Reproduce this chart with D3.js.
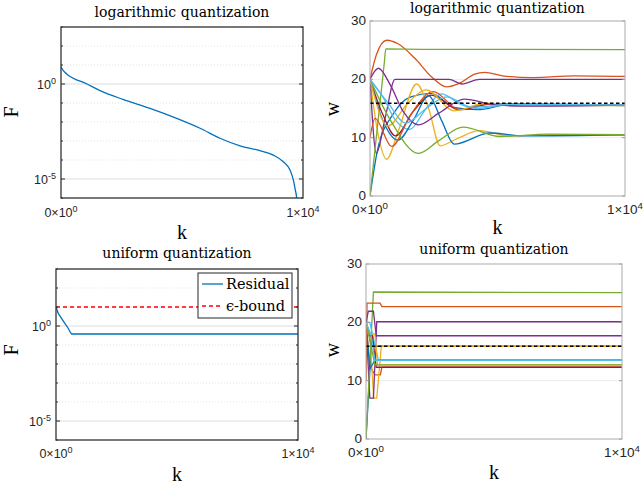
<!DOCTYPE html>
<html lang="en">
<head>
<meta charset="UTF-8">
<title>Quantized consensus</title>
<script src="https://d3js.org/d3.v7.min.js"></script>
<style>
  body { margin: 0; background: #fff; }
  .tick-label { font-family: "Liberation Sans", Arial, sans-serif; fill: #262626; }
  .serif { font-family: "Liberation Serif", "DejaVu Serif", serif; fill: #000; }
  .title { font-family: "DejaVu Serif", "Liberation Serif", serif; fill: #000; }
</style>
</head>
<body>
<svg id="chart" width="644" height="488"></svg>
<script>
// ---- data ----
const kDomain = [0, 10000];
const kTicks = [0, 10000];
const fDomain = [1e-6, 1e3];
const fMajorTicks = [1e0, 1e-5];
const fMinorTicks = [1e3, 1e2, 1e1, 1e-1, 1e-2, 1e-3, 1e-4, 1e-6];
const wDomain = [0, 30];
const wTicks = [0, 10, 20, 30];

// residual F, logarithmic quantization
const logResK = [0, 95, 235, 1074, 1612, 2562, 3678, 4780, 5744, 6570, 7397, 8223, 8774, 9187, 9463, 9600, 9683, 9738, 9760];
const logResF = [8.1, 5.0, 3.4, 1.0, 0.45, 0.155, 0.052, 0.0155, 0.0047, 0.0014, 0.00056, 0.00031, 0.00018, 8.1e-5, 2.95e-5, 8.9e-6, 2.6e-6, 1.0e-6, 3.2e-7];

// residual F, uniform quantization
const unifResK = [0, 97, 236, 372, 510, 607, 650, 10000];
const unifResF = [10, 4.5, 2.45, 1.35, 0.74, 0.43, 0.38, 0.38];
const epsilonBound = 10;

// agent states w, [k, w] pairs
const logAgents = [
  [[0,0],[300,8],[900,14],[1600,17],[2400,17.6],[3300,15.2],[4200,14.8],[5500,15.7],[10000,15.5]],
  [[0,20],[250,24.2],[650,26.7],[1100,26.1],[1760,23.6],[2420,20.4],[3000,18.7],[3500,19.3],[4100,20.9],[4500,21.2],[5200,20.6],[6400,20.3],[8000,20.6],[10000,20.5]],
  [[0,20],[300,11],[650,6.3],[1100,11],[1830,19.2],[2300,15],[2750,8.6],[3400,9.8],[4300,11.2],[5500,10.3],[7000,10.5],[10000,10.5]],
  [[0,20],[250,7.3],[600,13.5],[980,20],[3100,20],[3600,19.2],[4300,20],[10000,20]],
  [[0,0],[560,22.8],[620,25.2],[2000,25.15],[10000,25.1]],
  [[0,20],[500,17],[1000,13],[1550,11.4],[2200,15],[2800,17.5],[3600,15.6],[4200,15],[5500,15.7],[10000,15.6]],
  [[0,20],[500,14],[1000,10.3],[1700,14.5],[2400,17.3],[3500,14.8],[4800,15.8],[10000,15.6]],
  [[0,20],[500,13],[1100,9.6],[1700,13],[2300,17.2],[2800,13],[3300,8.9],[4700,10.8],[6000,10.3],[10000,10.5]],
  [[0,10],[200,13.3],[850,8.5],[1600,14],[2480,17.9],[3500,14.8],[4500,15.8],[10000,15.6]],
  [[0,20],[700,12],[1500,16],[2200,18.2],[3300,14.6],[4500,15.9],[6000,15.5],[10000,15.5]],
  [[0,20],[330,21.9],[800,19],[1300,14.5],[1900,12.2],[2700,14.2],[3700,16.6],[4800,15.7],[6000,15.4],[10000,15.6]],
  [[0,20],[800,13],[1900,7.3],[2700,9.5],[3650,11.8],[5100,10.2],[7000,10.6],[10000,10.5]],
  [[0,20],[700,16],[1400,12.5],[2200,15],[3000,17],[4000,15.2],[5500,15.7],[10000,15.6]]
];
const unifAgents = [
  [[0,0],[220,17],[400,15.9],[10000,15.9]],
  [[0,20],[150,12.5],[350,11],[560,11],[620,12.3],[10000,12.3]],
  [[0,20],[150,18],[300,7],[420,7],[600,15.9],[10000,15.9]],
  [[0,20],[150,7],[290,7],[420,20.1],[10000,20.1]],
  [[0,0],[290,25.2],[10000,25.1]],
  [[0,20],[150,20],[480,13.5],[10000,13.5]],
  [[0,20],[150,17.7],[250,17.7],[400,12.3],[10000,12.3]],
  [[0,20],[150,12],[350,13.5],[10000,13.5]],
  [[0,10],[40,23.3],[550,23.3],[620,22.7],[10000,22.7]],
  [[0,20],[100,18],[350,18],[450,12.7],[10000,12.7]],
  [[0,20],[90,21.9],[290,21.9],[400,17.7],[10000,17.7]],
  [[0,20],[350,12.7],[10000,12.7]],
  [[0,20],[200,17.7],[350,13.5],[10000,13.5]]
];
const logAvg = 15.9;
const unifAvg = 15.9;

const agentColors = ["#0072BD", "#D95319", "#EDB120", "#7E2F8E", "#77AC30", "#4DBEEE", "#A2142F"];

const svg = d3.select("#chart");

function sciParts(v) {
  const e = v === 0 ? 0 : Math.floor(Math.log10(v));
  const m = Math.round(v / Math.pow(10, e));
  return [m + "\u00d710", String(e)];
}

function supLabel(g, x, y, base, exp, size, anchor) {
  const t = g.append("text").attr("class", "tick-label")
    .attr("x", x).attr("y", y).attr("text-anchor", anchor).attr("font-size", size);
  t.append("tspan").text(base);
  t.append("tspan").attr("dy", -size * 0.4).attr("font-size", size * 0.72).text(exp);
}

function clip(id, x0, x1, y0, y1) {
  svg.append("clipPath").attr("id", id).append("rect")
    .attr("x", x0).attr("y", y0).attr("width", x1 - x0).attr("height", y1 - y0);
}

// ---- log-scale residual panels ----
function logPanel(o) {
  const x = d3.scaleLinear().domain(kDomain).range(o.x);
  const y = d3.scaleLog().domain(fDomain).range(o.y);
  const g = svg.append("g");
  const [xl, xr] = o.x, [yb, yt] = o.y;

  g.selectAll(".minor").data(fMinorTicks).join("line")
    .attr("x1", xl).attr("x2", xr).attr("y1", d => y(d)).attr("y2", d => y(d))
    .attr("stroke", "#e3e3e3").attr("stroke-dasharray", "1,2");
  g.selectAll(".major").data(fMajorTicks).join("line")
    .attr("x1", xl).attr("x2", xr).attr("y1", d => y(d)).attr("y2", d => y(d))
    .attr("stroke", "#dcdcdc");

  clip(o.id, xl, xr, yt, yb);
  g.append("path")
    .datum(d3.zip(o.k, o.f))
    .attr("clip-path", `url(#${o.id})`)
    .attr("fill", "none").attr("stroke", "#0072BD").attr("stroke-width", 1.3)
    .attr("d", d3.line().x(d => x(d[0])).y(d => y(d[1])).curve(o.curve));

  if (o.extra) o.extra(g, x, y);

  // ticks on both sides
  [...fMajorTicks.map(d => [d, 4]), ...fMinorTicks.map(d => [d, 2])].forEach(([d, len]) => {
    g.append("line").attr("x1", xl).attr("x2", xl + len).attr("y1", y(d)).attr("y2", y(d)).attr("stroke", "#262626");
    g.append("line").attr("x1", xr).attr("x2", xr - len).attr("y1", y(d)).attr("y2", y(d)).attr("stroke", "#262626");
  });
  g.append("rect").attr("x", xl).attr("y", yt).attr("width", xr - xl).attr("height", yb - yt)
    .attr("fill", "none").attr("stroke", "#333").attr("stroke-width", 1.3);

  fMajorTicks.forEach(d => {
    supLabel(g, xl - 5, y(d) + 4.5, "10", String(Math.round(Math.log10(d))), 12.5, "end");
  });
  kTicks.forEach(d => {
    const [b, e] = sciParts(d);
    supLabel(g, x(d), o.xLabelY, b, e, 12.5, "middle");
  });

  g.append("text").attr("class", "title").attr("font-size", 14)
    .attr("x", (xl + xr) / 2).attr("y", o.titleY).attr("text-anchor", "middle").text(o.title);
  g.append("text").attr("class", "serif").attr("font-size", 20)
    .attr("x", (xl + xr) / 2).attr("y", o.kY).attr("text-anchor", "middle").text("k");
  g.append("text").attr("class", "serif").attr("font-size", 20)
    .attr("transform", `translate(${o.fX},${o.fY}) rotate(-90)`).attr("text-anchor", "middle").text("F");
}

// ---- linear agent-state panels ----
function linPanel(o) {
  const x = d3.scaleLinear().domain(kDomain).range(o.x);
  const y = d3.scaleLinear().domain(wDomain).range(o.y);
  const g = svg.append("g");
  const [xl, xr] = o.x, [yb, yt] = o.y;

  g.selectAll(".grid").data([10, 20]).join("line")
    .attr("x1", xl).attr("x2", xr).attr("y1", d => y(d)).attr("y2", d => y(d))
    .attr("stroke", "#ececec");

  clip(o.id, xl, xr, yt, yb);
  const line = d3.line().x(d => x(d[0])).y(d => y(d[1])).curve(o.curve);
  g.append("g").attr("clip-path", `url(#${o.id})`)
    .selectAll("path").data(o.agents).join("path")
    .attr("fill", "none")
    .attr("stroke", (d, i) => agentColors[i % agentColors.length])
    .attr("stroke-width", 1.3)
    .attr("d", line);

  g.append("line").attr("x1", xl).attr("x2", xr).attr("y1", y(o.avg)).attr("y2", y(o.avg))
    .attr("stroke", "#000").attr("stroke-width", 1.4).attr("stroke-dasharray", "3.5,2.5");

  wTicks.forEach(d => {
    g.append("line").attr("x1", xl).attr("x2", xl + 3).attr("y1", y(d)).attr("y2", y(d)).attr("stroke", "#999");
    g.append("line").attr("x1", xr).attr("x2", xr - 3).attr("y1", y(d)).attr("y2", y(d)).attr("stroke", "#999");
    g.append("text").attr("class", "tick-label").attr("font-size", 13.5)
      .attr("x", xl - 4).attr("y", y(d) + 4).attr("text-anchor", "end").text(d);
  });
  g.append("rect").attr("x", xl).attr("y", yt).attr("width", xr - xl).attr("height", yb - yt)
    .attr("fill", "none").attr("stroke", "#aaa").attr("stroke-width", 1);

  kTicks.forEach(d => {
    const [b, e] = sciParts(d);
    supLabel(g, x(d), o.xLabelY, b, e, 13.5, "middle");
  });

  g.append("text").attr("class", "title").attr("font-size", 14)
    .attr("x", (xl + xr) / 2).attr("y", o.titleY).attr("text-anchor", "middle").text(o.title);
  g.append("text").attr("class", "serif").attr("font-size", 20)
    .attr("x", (xl + xr) / 2).attr("y", o.kY).attr("text-anchor", "middle").text("k");
  g.append("text").attr("class", "serif").attr("font-size", 20)
    .attr("transform", `translate(${o.wX},${o.wY}) rotate(-90)`).attr("text-anchor", "middle").text("w");
}

logPanel({
  id: "c1", x: [61, 303], y: [198, 27], k: logResK, f: logResF, curve: d3.curveMonotoneX,
  title: "logarithmic quantization", titleY: 17, xLabelY: 217, kY: 239, fX: 18, fY: 112
});

logPanel({
  id: "c3", x: [56, 298], y: [440, 269], k: unifResK, f: unifResF, curve: d3.curveLinear,
  title: "uniform quantization", titleY: 258, xLabelY: 458, kY: 481, fX: 18, fY: 350,
  extra: (g, x, y) => {
    g.append("line").attr("x1", x(kDomain[0])).attr("x2", x(kDomain[1]))
      .attr("y1", y(epsilonBound)).attr("y2", y(epsilonBound))
      .attr("stroke", "#ff0000").attr("stroke-width", 1.3).attr("stroke-dasharray", "4,3");
    // legend
    const lg = g.append("g");
    lg.append("rect").attr("x", 198).attr("y", 273).attr("width", 94).attr("height", 45)
      .attr("fill", "#fff").attr("stroke", "#262626").attr("stroke-width", 1);
    lg.append("line").attr("x1", 202).attr("x2", 223).attr("y1", 284).attr("y2", 284)
      .attr("stroke", "#0072BD").attr("stroke-width", 1.3);
    lg.append("line").attr("x1", 202).attr("x2", 223).attr("y1", 306).attr("y2", 306)
      .attr("stroke", "#ff0000").attr("stroke-width", 1.3).attr("stroke-dasharray", "4,3");
    lg.append("text").attr("class", "title").attr("font-size", 14.5).attr("x", 226).attr("y", 289).text("Residual");
    lg.append("text").attr("class", "title").attr("font-size", 14.5).attr("x", 226).attr("y", 311).text("\u03f5-bound");
  }
});

linPanel({
  id: "c2", x: [370, 625], y: [196, 21], agents: logAgents, avg: logAvg, curve: d3.curveMonotoneX,
  title: "logarithmic quantization", titleY: 13, xLabelY: 214, kY: 234, wX: 339, wY: 109
});

linPanel({
  id: "c4", x: [366, 622], y: [439, 264], agents: unifAgents, avg: unifAvg, curve: d3.curveLinear,
  title: "uniform quantization", titleY: 254, xLabelY: 457, kY: 479, wX: 339, wY: 350
});
</script>
</body>
</html>
